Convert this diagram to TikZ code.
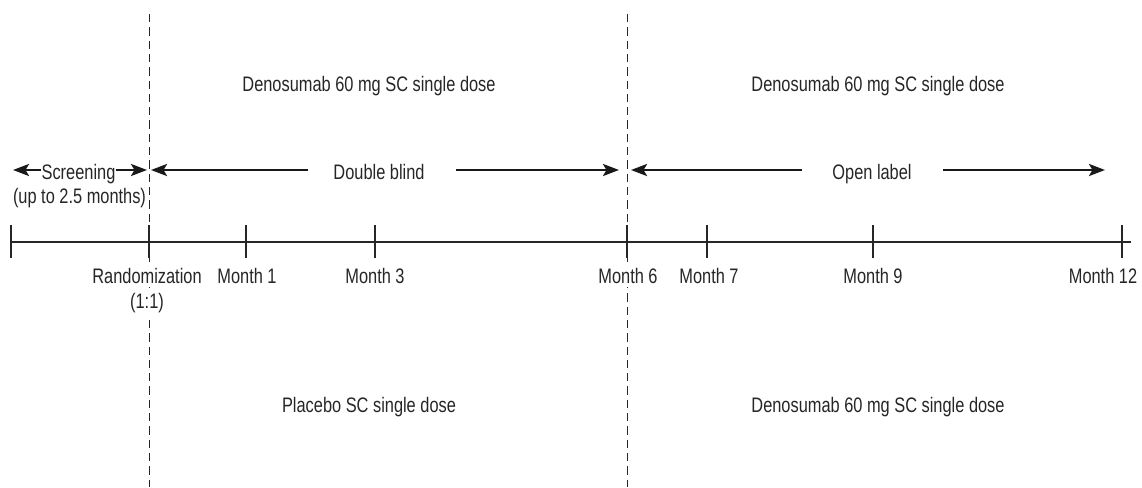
\documentclass[tikz,border=0pt]{standalone}
\usepackage{fontspec}
\setmainfont[FakeStretch=0.78]{Liberation Sans}
\usetikzlibrary{arrows.meta}
\begin{document}
\begin{tikzpicture}[x=1pt,y=-1pt,
  txt/.style={font=\fontsize{21}{24}\selectfont, text=black!85, inner sep=0pt, anchor=base},
  tlabel/.style={txt, fill=white, inner xsep=1pt, inner ysep=4pt},
  arr/.style={line width=2.6pt, draw=black!90, -{Stealth[length=16pt,width=12pt,inset=3.5pt]}},
  axis/.style={line width=1.3pt, draw=black!85},
  tick/.style={line width=1.3pt, draw=black!85},
  divider/.style={line width=1pt, draw=black!85, dash pattern=on 8.3pt off 5pt}]
\useasboundingbox (0,0) rectangle (1142,487);

% dashed dividers (drawn first, labels with white fill cover them)
\coordinate (d1top) at (149,14);
\coordinate (d1bot) at (149,487);
\coordinate (d2top) at (627,14);
\coordinate (d2bot) at (627,487);
\draw[divider] (d1top) -- (d1bot);
\draw[divider] (d2top) -- (d2bot);

% dose texts
\node[txt] (topL) at (369,91.5) {Denosumab 60 mg SC single dose};
\node[txt] (topR) at (878,91.5) {Denosumab 60 mg SC single dose};
\node[txt] (botL) at (369,412) {Placebo SC single dose};
\node[txt] (botR) at (878,412) {Denosumab 60 mg SC single dose};

% phase texts
\node[txt] (scr) at (78.5,179) {Screening};
\node[txt] (scr2) at (79.5,203) {(up to 2.5 months)};
\node[txt] (db) at (379,179) {Double blind};
\node[txt] (ol) at (872,179) {Open label};

% arrow ends
\coordinate (a1) at (13,170);
\coordinate (a2) at (147,170);
\coordinate (a3) at (151,170);
\coordinate (a4) at (619,170);
\coordinate (a5) at (631,170);
\coordinate (a6) at (1105,170);

\draw[arr] (scr.west |- a1) -- (a1);
\draw[arr] (scr.east |- a2) -- (a2);
\draw[arr] ([xshift=-25pt]db.west |- a3) -- (a3);
\draw[arr] ([xshift=31pt]db.east |- a4) -- (a4);
\draw[arr] ([xshift=-30pt]ol.west |- a5) -- (a5);
\draw[arr] ([xshift=31pt]ol.east |- a6) -- (a6);

% timeline
\coordinate (t0) at (11,242);
\coordinate (tend) at (1131,242);
\draw[axis] (t0) -- (tend);
\foreach \x/\n in {11/k0,149/k1,246/k2,375/k3,627/k4,707/k5,873/k6,1122/k7}{
  \coordinate (\n a) at (\x,225);
  \coordinate (\n b) at (\x,258);
  \draw[tick] (\n a) -- (\n b);
}

% timeline labels
\node[tlabel] (rand) at (147,283) {Randomization};
\node[tlabel] (ratio) at (147,308) {(1:1)};
\node[tlabel] (m1) at (247,283) {Month 1};
\node[tlabel] (m3) at (375,283) {Month 3};
\node[tlabel] (m6) at (628,283) {Month 6};
\node[tlabel] (m7) at (709,283) {Month 7};
\node[tlabel] (m9) at (873,283) {Month 9};
\node[tlabel] (m12) at (1103,283) {Month 12};
\end{tikzpicture}
\end{document}
